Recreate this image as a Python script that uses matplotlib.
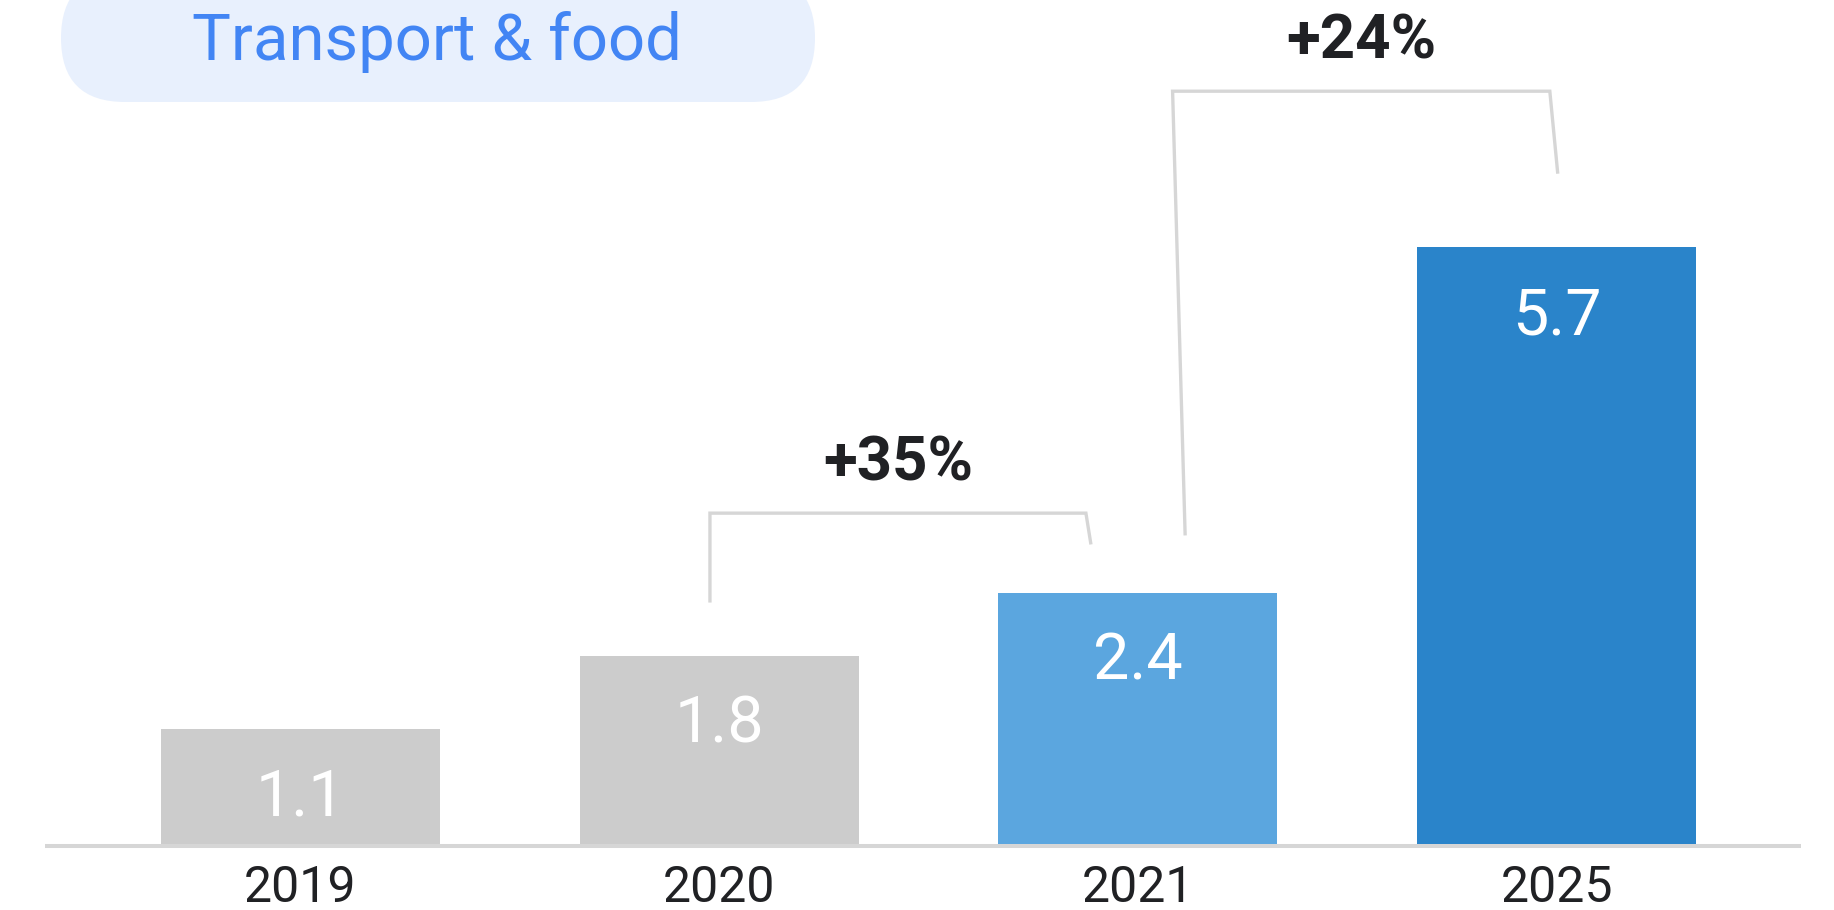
import matplotlib
matplotlib.use("Agg")
import matplotlib.pyplot as plt
from matplotlib.patches import FancyBboxPatch

plt.rcParams['font.family'] = ['Roboto', 'DejaVu Sans']

# data
years = ['2019', '2020', '2021', '2025']
values = [1.1, 1.8, 2.4, 5.7]
bar_colors = ['#cccccc', '#cccccc', '#5ba6df', '#2a84ca']
title = 'Transport & food'

# growth brackets: (from bar, to bar), label, leg x offsets, leg bottoms, top
growth_pairs = [(1, 2), (2, 3)]
growth_labels = ['+35%', '+24%']
bracket_x = [[-0.022, -0.022, -0.124, -0.112],   # offsets from the bar centres
             [0.113, 0.083, -0.016, 0.003]]
bracket_gap = [[0.506, 0.461], [0.547, 0.702]]   # leg bottom above bar top
bracket_top = [3.16, 7.19]

W, H = 1834, 910
px = 104.7        # pixels per unit
step = 418.67     # pixels between bars
x0 = 300.5        # first bar centre
base = 844        # baseline pixel row

fig = plt.figure(figsize=(W / 100, H / 100), dpi=100)
ax = fig.add_axes([0, (H - base) / H, 1, base / H])
ax.set_xlim(-x0 / step, (W - x0) / step)
ax.set_ylim(0, base / px)
ax.axis('off')

xs = list(range(len(years)))
ax.bar(xs, values, width=0.666, color=bar_colors, zorder=3)

# baseline
ax.plot([-0.61, 3.584], [-2 / px, -2 / px], color='#d6d6d6', lw=2.9,
        solid_capstyle='butt', zorder=2, clip_on=False)

for x, v, y in zip(xs, values, years):
    ax.text(x, v - 87 / px, f'{v:.1f}', ha='center', va='baseline',
            color='white', fontsize=46.5, zorder=4)
    ax.text(x, -58 / px, y, ha='center', va='baseline', color='#202124',
            fontsize=36, clip_on=False)

# growth brackets
for (a, b), lab, bx, gap, top in zip(growth_pairs, growth_labels,
                                     bracket_x, bracket_gap, bracket_top):
    lx = [a + bx[0], a + bx[1], b + bx[2], b + bx[3]]
    ly = [values[a] + gap[0], top, top, values[b] + gap[1]]
    ax.plot(lx, ly, color='#d6d6d6', lw=2.4, solid_joinstyle='miter',
            solid_capstyle='butt', zorder=2)
    ax.text((lx[1] + lx[2]) / 2, top + 33 / px, lab, ha='center',
            va='baseline', color='#202124', fontsize=44.5, fontweight='bold')

# title pill in pixel space
ov = fig.add_axes([0, 0, 1, 1], facecolor='none')
ov.set_xlim(0, W)
ov.set_ylim(H, 0)
ov.axis('off')
pill = FancyBboxPatch((61, -26), 754, 128,
                      boxstyle='round,pad=0,rounding_size=64',
                      facecolor='#e8f0fd', edgecolor='none')
ov.add_patch(pill)
ov.text(437, 60, title, ha='center', va='baseline', color='#4285f4',
        fontsize=47)

plt.savefig('out.png', dpi=100)
